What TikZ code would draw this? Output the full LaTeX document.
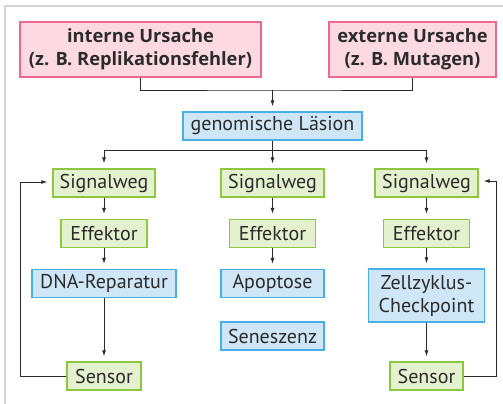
\documentclass[tikz,border=0pt]{standalone}
\usepackage{fontspec}
\setmainfont{PT Sans}
\newfontfamily\fett{Open Sans}
\usepackage{tikz}
\usetikzlibrary{calc}
\usetikzlibrary{positioning}
\usetikzlibrary{arrows.meta}
\usepackage{xcolor}
\definecolor{rahmen}{HTML}{D4D4D4}
\definecolor{schrift}{HTML}{2B2B2B}
\definecolor{pinkrand}{HTML}{EC6A8F}
\definecolor{pinkfill}{HTML}{FDD9E1}
\definecolor{gruenrand}{HTML}{8DC63F}
\definecolor{gruenfill}{HTML}{E4F1CF}
\definecolor{blaurand}{HTML}{47B0E6}
\definecolor{blaufill}{HTML}{CFE6F7}

\begin{document}
\begin{tikzpicture}[
		x=1pt, y=-1pt,
		every node/.style={text=schrift, font=\fontsize{20}{23}\selectfont, inner sep=0pt},
		u/.style={rectangle, draw=pinkrand, fill=pinkfill, line width=1.2pt, minimum height=55, align=center, font=\fett\fontsize{18.3}{23}\selectfont\bfseries},
		g/.style={rectangle, draw=gruenrand, fill=gruenfill, line width=1.2pt, minimum height=28},
		b/.style={rectangle, draw=blaurand, fill=blaufill, line width=1.2pt, minimum height=28, align=center},
		r/.style={->, >={Latex[length=6pt, width=4pt]}, draw=schrift, line width=0.9pt, shorten >=5pt},
		l/.style={draw=schrift, line width=0.9pt},
		]
		
		% Rahmen
		\useasboundingbox (0, 0) rectangle (503, 404);
		\draw[rahmen, line width=2pt]	(5, 404)	|-	(503, 6);
		
		% Ursachen
		\node[u, minimum width=241]	(intern)	at	(140.5, 49.5)	{interne Ursache\\(z. B. Replikationsfehler)};
		\node[u, minimum width=167]	(extern)	at	(412.5, 49.5)	{externe Ursache\\(z. B. Mutagen)};
		\node[b, minimum width=179]	(laesion)	at	(272.5, 126)	{genomische Läsion};
		
		% Spalten
		\node[g, minimum width=102]	(sig1)	at	(104, 183)		{Signalweg};
		\node[g, minimum width=103]	(sig2)	at	(272.5, 183)	{Signalweg};
		\node[g, minimum width=103]	(sig3)	at	(426.5, 183)	{Signalweg};
		
		\node[g, minimum width=86]	(eff1)	at	(104, 233.5)	{Effektor};
		\node[g, minimum width=86]	(eff2)	at	(272.5, 233.5)	{Effektor};
		\node[g, minimum width=86]	(eff3)	at	(426.5, 233.5)	{Effektor};
		
		\node[b, minimum width=144]	(dna)	at	(104, 283.5)	{DNA-Reparatur};
		\node[b, minimum width=103]	(apo)	at	(272.5, 283.5)	{Apoptose};
		\node[b, minimum width=116, minimum height=53]	(zell)	at	(426.5, 295.5)	{Zellzyklus-\\Checkpoint};
		\node[b, minimum width=103]	(sen)	at	(272.5, 336)	{Seneszenz};
		
		\node[g, minimum width=74]	(sens1)	at	(104, 376)		{Sensor};
		\node[g, minimum width=73]	(sens3)	at	(426.5, 376)	{Sensor};
		
		% Verbindungen
		\coordinate	(j)	at	(272.5, 90);
		\coordinate	(k)	at	(272.5, 150);
		\draw[l]	(intern.south)	|-	(j)	-|	(extern.south);
		\draw[r]	(j)		to	(laesion.north);
		\draw[r]	(laesion.south)	to	(sig2.north);
		\draw[r]	(k)		-|	(sig1.north);
		\draw[r]	(k)		-|	(sig3.north);
		
		\draw[r]	(sig1)	to	(eff1);
		\draw[r]	(eff1)	to	(dna);
		\draw[r]	(dna)	to	(sens1);
		\draw[r]	(sig2)	to	(eff2);
		\draw[r]	(eff2)	to	(apo);
		\draw[r]	(sig3)	to	(eff3);
		\draw[r]	(eff3)	to	(zell);
		\draw[r]	(zell)	to	(sens3);
		
		\draw[r]	(sens1.west)	-|	(20, 182)	--	(sig1.west |- 0, 182);
		\draw[r]	(sens3.east)	-|	(496, 181)	--	(sig3.east |- 0, 181);
	\end{tikzpicture}
\end{document}
